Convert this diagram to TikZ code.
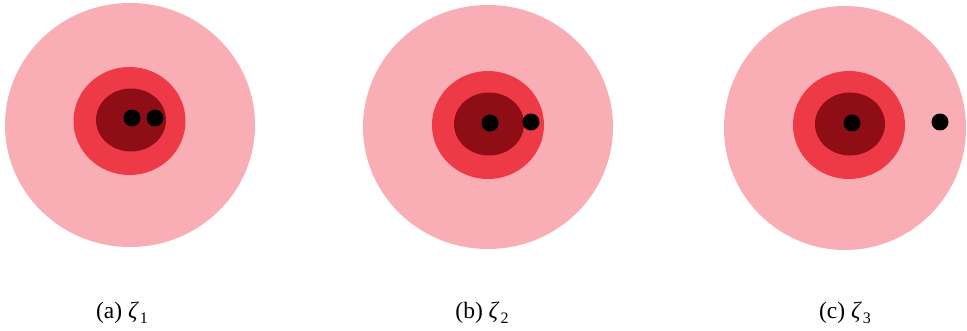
\documentclass[tikz,border=0pt]{standalone}
\usepackage{fontspec}
\setmainfont{Liberation Serif}
\usepackage{tikz}
\usetikzlibrary{shapes.geometric, positioning}
\definecolor{mypink}{RGB}{248,174,180}
\definecolor{myred}{RGB}{238,57,70}
\definecolor{mydark}{RGB}{143,13,20}
\newcommand{\zetasub}[1]{\textit{ζ}\kern1pt\raisebox{-0.22em}{\fontsize{16}{16}\selectfont #1}}
\tikzset{
  outer/.style={ellipse, fill=mypink, draw=none, inner sep=0pt,
    minimum width=250pt, minimum height=244pt},
  ring/.style={ellipse, fill=myred, draw=none, inner sep=0pt,
    minimum width=112pt, minimum height=108pt},
  core/.style={ellipse, fill=mydark, draw=none, inner sep=0pt,
    minimum width=70pt, minimum height=63pt},
  dot/.style={circle, fill=black, draw=none, inner sep=0pt,
    minimum size=17pt},
  caption/.style={font=\fontsize{23.5}{27}\selectfont, inner sep=0pt, anchor=base}
}

\begin{document}
\begin{tikzpicture}[x=1pt, y=-1pt]
  \useasboundingbox (0,0) rectangle (967,331);

  % Panel (a)
  \node[outer] (oa) at (130,125) {};
  \node[ring] (ra) at (129.5,121) {};
  \node[core] (ca) at (131,120) {};
  \node[dot] (pa) at (132,118) {};
  \node[dot] (qa) at (155,118) {};
  \node[caption] (la) at (122,318) {(a) \zetasub{1}};

  % Panel (b)
  \node[outer] (ob) at (488,127) {};
  \node[ring] (rb) at (488,125) {};
  \node[core] (cb) at (489,124) {};
  \node[dot] (pb) at (490,123) {};
  \node[dot] (qb) at (531,122) {};
  \node[caption] (lb) at (482,318) {(b) \zetasub{2}};

  % Panel (c)
  \node[outer, minimum width=242pt] (oc) at (845,128) {};
  \node[ring] (rc) at (849,125) {};
  \node[core] (cc) at (850,124) {};
  \node[dot] (pc) at (852,123) {};
  \node[dot] (qc) at (940,122) {};
  \node[caption] (lc) at (845,318) {(c) \zetasub{3}};
\end{tikzpicture}
\end{document}
